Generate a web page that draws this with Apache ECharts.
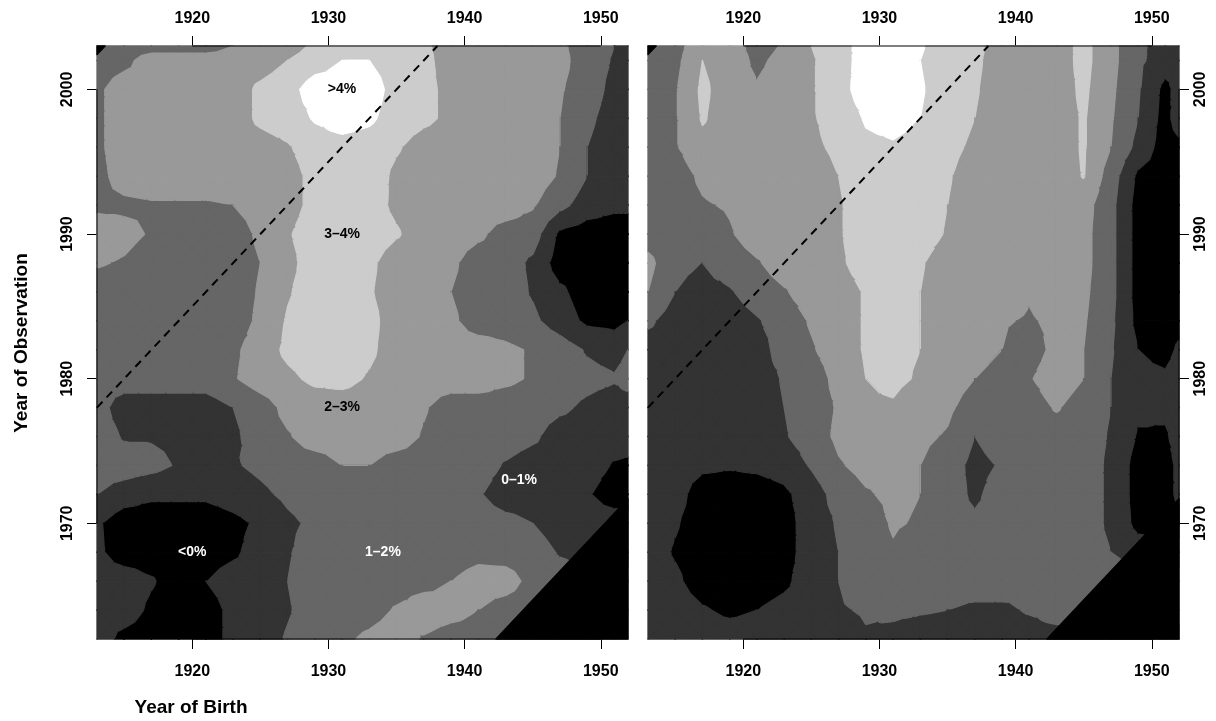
<!DOCTYPE html>
<html><head><meta charset="utf-8">
<script src="https://cdn.jsdelivr.net/npm/echarts@6/dist/echarts.min.js"></script>
<style>html,body{margin:0;padding:0;background:#fff}#c{width:1216px;height:721px}</style>
</head><body><div id="c"></div>
<script>
// ---------------- data ----------------
const birthYears = [1913,1915,1917,1919,1921,1923,1925,1927,1929,1931,1933,1935,1937,1939,1941,1943,1945,1947,1949,1951,1952];
const obsYears = [2003,2002,2000,1998,1996,1994,1992,1990,1988,1986,1984,1982,1980,1978,1976,1974,1972,1970,1968,1966,1964,1962];
// growth rate (%), rows follow obsYears, columns follow birthYears
const leftGrid = [
[1.5,1.5,1.5,1.5,1.5,2.0,2.5,2.5,3.2,3.5,3.5,3.5,3.2,2.5,2.5,2.5,2.5,2.2,1.5,1.0,0.5],
[1.5,1.7,2.5,2.5,2.5,2.5,2.5,3.0,3.5,4.0,4.0,3.5,3.3,2.5,2.5,2.5,2.5,2.3,1.5,0.9,0.5],
[1.8,2.5,2.5,2.5,2.5,2.5,3.2,3.6,4.5,4.5,4.5,3.6,3.3,2.7,2.5,2.5,2.5,2.1,1.5,0.7,0.5],
[1.8,2.5,2.5,2.5,2.5,2.5,3.2,3.5,4.1,4.5,4.2,3.5,3.2,2.8,2.5,2.5,2.5,2.0,1.2,0.6,0.5],
[1.8,2.5,2.5,2.5,2.5,2.5,2.6,2.9,3.5,3.6,3.5,3.1,2.6,2.5,2.5,2.5,2.5,2.0,1.0,0.5,0.5],
[1.7,2.4,2.5,2.5,2.5,2.5,2.5,2.6,3.3,3.5,3.5,2.8,2.5,2.5,2.5,2.5,2.5,1.9,1.0,0.5,0.5],
[1.8,1.8,1.9,1.9,1.9,2.0,2.4,2.6,3.3,3.5,3.4,2.8,2.5,2.5,2.5,2.5,2.1,1.3,0.5,0.2,0.2],
[2.5,2.3,1.9,1.5,1.5,1.5,2.2,2.9,3.5,3.6,3.5,3.1,2.5,2.5,2.2,1.6,1.5,-0.2,-0.5,-0.5,-0.5],
[2.1,1.9,1.5,1.5,1.5,1.5,2.0,2.7,3.5,3.5,3.2,2.5,2.5,2.2,1.5,1.5,0.8,-0.5,-0.5,-0.5,-0.5],
[1.5,1.5,1.5,1.5,1.5,1.5,2.1,2.9,3.5,3.5,3.1,2.5,2.5,2.0,1.5,1.5,0.9,0.2,-0.5,-0.5,-0.5],
[1.5,1.5,1.5,1.5,1.5,1.5,2.2,3.1,3.5,3.5,3.3,2.5,2.5,2.2,1.5,1.5,1.2,0.5,-0.2,-0.3,0.0],
[1.5,1.5,1.5,1.5,1.5,1.8,2.5,3.2,3.5,3.5,3.2,2.5,2.5,2.5,2.5,2.2,1.9,1.5,0.9,0.6,1.0],
[1.5,1.5,1.5,1.5,1.5,1.9,2.5,2.8,3.2,3.3,2.9,2.5,2.5,2.5,2.5,2.2,1.9,1.5,1.3,1.1,1.4],
[1.4,0.5,0.5,0.5,0.5,1.0,1.5,2.3,2.5,2.5,2.5,2.5,2.1,1.5,1.5,1.5,1.5,1.2,0.8,0.5,0.5],
[1.5,0.9,0.9,0.8,0.6,0.8,1.5,1.9,2.5,2.5,2.5,2.5,1.9,1.5,1.5,1.5,1.2,0.5,0.5,0.5,0.5],
[1.5,1.5,1.3,0.9,0.5,0.9,1.2,1.5,1.5,2.0,2.0,1.5,1.5,1.5,1.5,0.9,0.5,0.5,0.5,-0.1,-0.2],
[1.0,0.5,0.2,0.2,0.2,0.5,0.8,1.2,1.5,1.5,1.5,1.5,1.5,1.5,1.1,0.5,0.5,0.5,0.1,-0.5,-0.5],
[0.15,-0.6,-0.6,-0.6,-0.6,-0.3,0.2,0.8,1.2,1.5,1.5,1.5,1.5,1.5,1.5,1.3,1.0,0.5,0.5,0.5,0.5],
[0.2,-0.5,-0.5,-0.5,-0.5,-0.2,0.5,0.9,1.5,1.5,1.5,1.5,1.5,1.5,1.7,1.6,1.5,0.9,0.5,0.5,0.5],
[0.5,0.5,0.1,-0.5,0.0,0.5,0.5,1.0,1.5,1.5,1.5,1.5,1.6,2.0,2.4,2.4,1.7,1.5,1.5,1.5,1.5],
[0.5,0.5,-0.2,-0.5,-0.5,0.3,0.5,0.9,1.5,1.5,1.6,2.1,2.6,2.4,2.0,1.6,1.5,1.5,1.5,1.5,1.5],
[0.5,-0.3,-0.5,-0.5,-0.5,0.3,0.5,1.1,1.5,1.8,2.2,2.5,1.9,1.5,1.5,1.5,1.5,1.5,1.5,1.5,1.5]
];
const rightGrid = [
[1.5,1.5,2.9,2.5,1.6,2.1,3.0,3.5,4.5,4.5,4.1,3.5,3.3,2.5,2.5,2.5,3.3,2.3,1.2,0.6,0.5],
[1.5,1.7,3.0,2.5,1.8,2.3,2.9,3.5,4.5,4.5,4.0,3.5,3.2,2.5,2.5,2.5,3.3,2.3,1.2,0.5,0.5],
[1.5,1.9,3.2,2.5,2.1,2.5,2.9,3.6,4.5,4.5,4.1,3.5,3.1,2.5,2.5,2.5,3.2,2.2,1.1,-0.3,0.4],
[1.5,1.9,3.1,2.5,2.5,2.5,2.9,3.4,4.1,4.3,4.0,3.5,3.0,2.5,2.5,2.5,3.1,2.1,1.0,-0.4,0.6],
[1.5,1.9,2.7,2.5,2.5,2.5,2.8,3.2,3.8,3.9,3.7,3.3,2.8,2.5,2.5,2.5,3.1,2.0,0.7,-0.5,-0.3],
[1.5,1.5,2.2,2.5,2.5,2.5,2.5,3.0,3.5,3.5,3.5,3.1,2.5,2.5,2.5,2.5,3.05,1.5,-0.2,-0.5,-0.5],
[1.5,1.5,1.9,2.1,2.5,2.5,2.5,2.9,3.5,3.5,3.5,3.0,2.5,2.5,2.5,2.5,2.4,1.3,-0.4,-0.5,-0.5],
[1.5,1.2,1.5,1.9,2.5,2.5,2.5,2.9,3.5,3.5,3.5,2.9,2.5,2.5,2.5,2.5,2.3,1.3,-0.4,-0.5,-0.5],
[2.3,1.2,1.0,1.5,1.9,2.5,2.5,2.8,3.5,3.5,3.1,2.5,2.5,2.5,2.5,2.5,2.3,1.3,-0.4,-0.5,-0.5],
[2.0,1.0,0.7,0.9,1.5,1.9,2.5,2.5,3.1,3.5,3.0,2.5,2.5,2.5,2.1,2.5,2.2,1.3,-0.4,-0.5,-0.5],
[1.2,0.5,0.5,0.5,0.9,1.5,2.1,2.5,3.1,3.5,3.0,2.5,2.5,2.1,1.9,2.2,2.1,1.2,-0.3,-0.5,-0.4],
[0.5,0.5,0.5,0.5,0.5,1.5,1.9,2.5,3.1,3.2,3.0,2.5,2.5,2.0,1.5,2.3,2.0,1.1,0.0,-0.4,0.2],
[0.5,0.5,0.5,0.5,0.5,1.1,1.5,2.3,3.0,3.2,2.9,2.5,2.0,1.5,1.9,2.6,2.0,1.0,0.3,0.2,0.6],
[0.5,0.5,0.5,0.5,0.5,1.0,1.5,2.1,2.9,2.9,2.5,2.2,1.5,1.5,1.5,2.1,1.5,1.0,0.2,0.3,0.7],
[0.5,0.5,0.5,0.5,0.5,0.9,1.5,2.2,2.5,2.5,2.2,1.9,1.0,1.5,1.5,1.5,1.5,0.9,-0.1,-0.2,0.6],
[0.5,0.5,0.2,0.1,0.2,0.4,1.1,1.9,2.3,2.3,2.0,1.5,0.7,1.1,1.5,1.5,1.5,0.8,-0.4,-0.5,0.3],
[0.5,0.4,-0.5,-0.5,-0.5,-0.2,0.5,1.4,1.9,2.2,2.0,1.5,0.8,1.5,1.5,1.5,1.5,0.8,-0.4,-0.5,0.3],
[0.5,0.1,-0.5,-0.5,-0.5,-0.4,0.5,1.1,1.5,2.1,1.9,1.5,1.2,1.5,1.5,1.5,1.5,0.8,-0.3,-0.5,-0.5],
[0.5,-0.1,-0.5,-0.5,-0.5,-0.4,0.5,1.0,1.5,1.9,1.5,1.5,1.5,1.5,1.5,1.5,1.5,1.0,0.5,0.5,0.5],
[0.5,0.2,-0.5,-0.5,-0.5,-0.2,0.5,1.0,1.5,1.5,1.5,1.5,1.5,1.5,1.3,1.5,1.5,1.5,1.5,1.5,1.5],
[0.5,0.5,0.1,-0.2,0.0,0.3,0.5,0.9,1.1,1.2,1.1,1.0,0.8,0.8,1.1,1.5,1.5,1.5,1.5,1.5,1.5],
[0.5,0.5,0.5,0.5,0.5,0.5,0.5,0.5,0.9,0.7,0.5,0.5,0.5,0.5,0.5,0.5,0.5,0.5,0.5,0.5,0.5]
];
const levels = [-100, 0, 1, 2, 3, 4, 100];
const levelColors = ['#000000', '#333333', '#666666', '#999999', '#cccccc', '#ffffff'];
const minAge = 19.7;   // below this age: no data (black)
const maxAge = 89.4;   // above this age: no data (black)
const refAge = 65;     // dashed reference line
const xTicks = [1920, 1930, 1940, 1950];
const yTicks = [1970, 1980, 1990, 2000];
const labelTexts = ['>4%', '3\u20134%', '2\u20133%', '0\u20131%', '<0%', '1\u20132%'];
const labelBirth = [1931, 1931, 1931, 1944, 1920, 1934];
const labelObs = [2000, 1990, 1978, 1973, 1968, 1968];
const labelColors = ['#000', '#000', '#000', '#fff', '#fff', '#fff'];

// ---------------- helpers ----------------
const xMin = birthYears[0], xMax = birthYears[birthYears.length - 1];
const yMax = obsYears[0], yMin = obsYears[obsYears.length - 1];
const FONT = '"Liberation Sans", Arial, Helvetica, sans-serif';
const EPS = 1e-6;

function clipHalf(poly, f) {
  const out = [];
  for (let i = 0; i < poly.length; i++) {
    const a = poly[i], b = poly[(i + 1) % poly.length];
    const fa = f(a), fb = f(b);
    if (fa >= 0) out.push(a);
    if ((fa >= 0) !== (fb >= 0)) {
      const t = fa / (fa - fb);
      out.push([a[0] + t * (b[0] - a[0]), a[1] + t * (b[1] - a[1]), a[2] + t * (b[2] - a[2])]);
    }
  }
  return out;
}
function area(pts) {
  let s = 0;
  for (let i = 0; i < pts.length; i++) {
    const a = pts[i], b = pts[(i + 1) % pts.length];
    s += a[0] * b[1] - b[0] * a[1];
  }
  return Math.abs(s) / 2;
}
function buildBands(grid) {
  const polys = [];
  const z = (j, i) => grid[j][i] + EPS;
  for (let j = 0; j < obsYears.length - 1; j++) {
    for (let i = 0; i < birthYears.length - 1; i++) {
      const p00 = [birthYears[i], obsYears[j], z(j, i)];
      const p10 = [birthYears[i + 1], obsYears[j], z(j, i + 1)];
      const p11 = [birthYears[i + 1], obsYears[j + 1], z(j + 1, i + 1)];
      const p01 = [birthYears[i], obsYears[j + 1], z(j + 1, i)];
      const c = [(p00[0] + p10[0]) / 2, (p00[1] + p01[1]) / 2, (p00[2] + p10[2] + p11[2] + p01[2]) / 4];
      const tris = [[p00, p10, c], [p10, p11, c], [p11, p01, c], [p01, p00, c]];
      tris.forEach(t => {
        for (let k = 0; k < levelColors.length; k++) {
          const lo = levels[k], hi = levels[k + 1];
          const poly = clipHalf(clipHalf(t, p => p[2] - lo), p => hi - p[2]);
          if (poly.length >= 3 && area(poly) > 1e-7) polys.push({ pts: poly.map(p => [p[0], p[1]]), color: levelColors[k] });
        }
      });
    }
  }
  // masks where there is no data
  polys.push({ pts: [[yMin - minAge, yMin], [xMax, yMin], [xMax, xMax + minAge]], color: '#000000' });
  polys.push({ pts: [[xMin, xMin + maxAge], [xMin, yMax], [yMax - maxAge, yMax]], color: '#000000' });
  return polys;
}
function polySeries(polys, gi) {
  return {
    type: 'custom', xAxisIndex: gi * 2, yAxisIndex: gi, coordinateSystem: 'cartesian2d',
    silent: true, animation: false, progressive: 0, z: 1,
    data: polys.map(p => [p.pts[0][0], p.pts[0][1]]),
    renderItem: (params, api) => {
      const p = polys[params.dataIndex];
      return { type: 'polygon', shape: { points: p.pts.map(q => api.coord(q)) },
        style: { fill: p.color, stroke: p.color, lineWidth: 1.3, lineJoin: 'round' } };
    }
  };
}
function lineSeries(gi, data, style) {
  return { type: 'line', xAxisIndex: gi * 2, yAxisIndex: gi, data: data, symbol: 'none', clip: false,
    silent: true, animation: false, z: 5, lineStyle: style };
}
const axisStyle = { color: '#000', width: 1 };
function axisLinesFor(gi, side) {
  const sx = side === 'left' ? xMin : xMax;
  return [
    lineSeries(gi, [[xTicks[0], yMax], [xTicks[xTicks.length - 1], yMax]], axisStyle),
    lineSeries(gi, [[xTicks[0], yMin], [xTicks[xTicks.length - 1], yMin]], axisStyle),
    lineSeries(gi, [[sx, yTicks[0]], [sx, yTicks[yTicks.length - 1]]], axisStyle)
  ];
}
const dashStyle = { color: '#000', width: 2, type: [8, 6] };
const refLine = [[xMin, xMin + refAge], [yMax - refAge, yMax]];

const lblStyle = { fontFamily: FONT, fontWeight: 'bold', fontSize: 16, color: '#000', formatter: v => String(v) };
function xAx(gi, pos, margin) {
  return { gridIndex: gi, type: 'value', position: pos, min: xMin, max: xMax,
    splitLine: { show: false }, axisLine: { show: false },
    axisTick: { show: true, customValues: xTicks, length: 10, inside: false, lineStyle: { color: '#000', width: 1 } },
    axisLabel: Object.assign({ customValues: xTicks, margin: margin }, lblStyle) };
}
function yAx(gi, pos, margin) {
  return { gridIndex: gi, type: 'value', position: pos, min: yMin, max: yMax,
    splitLine: { show: false }, axisLine: { show: false },
    axisTick: { show: true, customValues: yTicks, length: 10, inside: false, lineStyle: { color: '#000', width: 1 } },
    axisLabel: Object.assign({ customValues: yTicks, margin: margin, rotate: 90 }, lblStyle) };
}

const chart = echarts.init(document.getElementById('c'), null, { renderer: 'canvas' });
const series = [
  polySeries(buildBands(leftGrid), 0),
  polySeries(buildBands(rightGrid), 1),
  lineSeries(0, refLine, dashStyle),
  lineSeries(1, refLine, dashStyle),
  ...axisLinesFor(0, 'left'),
  ...axisLinesFor(1, 'right'),
  {
    type: 'custom', xAxisIndex: 0, yAxisIndex: 0, coordinateSystem: 'cartesian2d',
    silent: true, animation: false, z: 8,
    data: labelTexts.map((t, i) => [labelBirth[i], labelObs[i]]),
    renderItem: (params, api) => {
      const i = params.dataIndex;
      const pt = api.coord([api.value(0), api.value(1)]);
      return { type: 'text', x: pt[0], y: pt[1], z2: 100,
        style: { text: labelTexts[i], fill: labelColors[i], font: 'bold 14px ' + FONT,
          textAlign: 'center', textVerticalAlign: 'middle' } };
    }
  }
];
chart.setOption({
  animation: false,
  backgroundColor: '#ffffff',
  grid: [
    { left: 97, top: 46, width: 531, height: 593 },
    { left: 648, top: 46, width: 531, height: 593 }
  ],
  xAxis: [xAx(0, 'bottom', 25), xAx(0, 'top', 19), xAx(1, 'bottom', 25), xAx(1, 'top', 19)],
  yAxis: [yAx(0, 'left', 21), yAx(1, 'right', 14)],
  graphic: [
    { type: 'text', x: 191, y: 708, style: { text: 'Year of Birth', fill: '#000', font: 'bold 19px ' + FONT, textAlign: 'center', textVerticalAlign: 'middle' } },
    { type: 'text', x: 22, y: 343, rotation: Math.PI / 2, style: { text: 'Year of Observation', fill: '#000', font: 'bold 19px ' + FONT, textAlign: 'center', textVerticalAlign: 'middle' } }
  ],
  series: series
});
</script></body></html>
